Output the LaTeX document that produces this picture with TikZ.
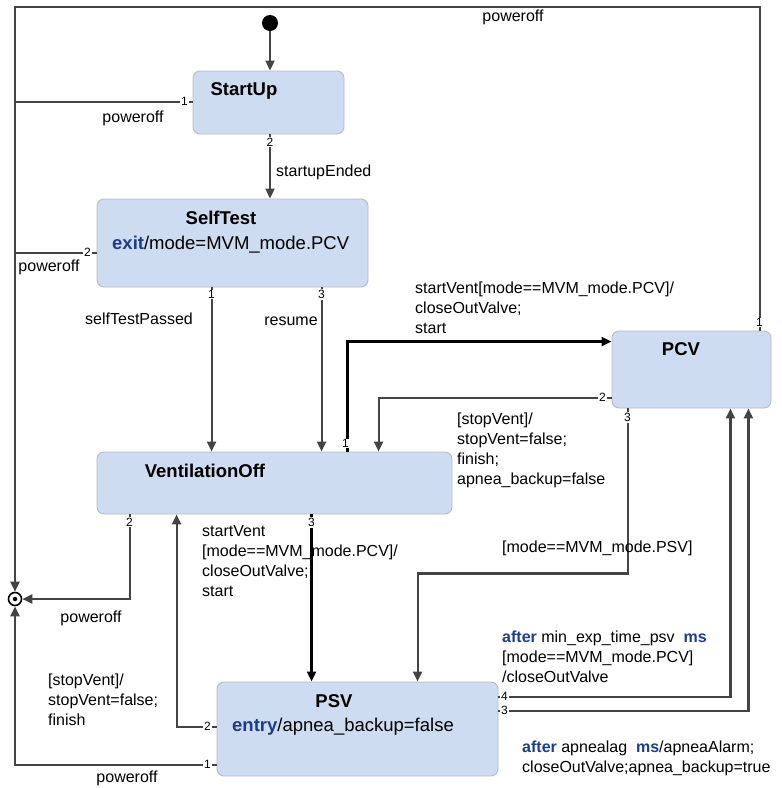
\documentclass[tikz,border=0pt]{standalone}
\usepackage{fontspec}
\setmainfont{Liberation Sans}
\usepackage{tikz}
\usetikzlibrary{arrows.meta}
\definecolor{boxfill}{HTML}{CDDCF0}
\definecolor{boxline}{HTML}{B4BCC8}
\definecolor{wiregray}{HTML}{444444}
\definecolor{kwblue}{HTML}{1E3C8C}
\newcommand{\kw}[1]{{\color{kwblue}\bfseries #1}}
\tikzset{
    state/.style={draw=boxline, fill=boxfill, rounded corners=7pt, line width=0.9pt, inner sep=0pt},
    title/.style={font=\fontsize{18.5}{22}\selectfont\bfseries, inner sep=0pt},
    action/.style={font=\fontsize{18.5}{22}\selectfont, anchor=west, inner sep=0pt},
    lbl/.style={font=\fontsize{16}{20}\selectfont, align=left, anchor=west, inner sep=0pt},
    port/.style={font=\fontsize{12}{13}\selectfont, fill=white, inner sep=0.8pt},
    wire/.style={draw=wiregray, line width=2.1pt},
    trans/.style={wire, -{Triangle[length=10pt,width=9pt]}},
    strong/.style={trans, draw=black, line width=2.3pt}
}
\begin{document}
\begin{tikzpicture}[x=1pt, y=-1pt]
    \useasboundingbox (0,0) rectangle (782,788);
    \node [state, minimum width=151pt, minimum height=63pt] (startup) at (268.5,102.5) {};
    \node [state, minimum width=271pt, minimum height=88pt] (selftest) at (232.5,243) {};
    \node [state, minimum width=355pt, minimum height=62pt] (ventoff) at (274.5,483) {};
    \node [state, minimum width=159pt, minimum height=77pt] (pcv) at (691.5,369.5) {};
    \node [state, minimum width=281pt, minimum height=94pt] (psv) at (357.5,729) {};
    \node [title] (startuptitle) at (244,91) {StartUp};
    \node [title] (selftesttitle) at (221,218) {SelfTest};
    \node [action] (selftestexit) at (112,245) {\kw{exit}/mode=MVM\_mode.PCV};
    \node [title] (ventofftitle) at (205,471) {VentilationOff};
    \node [title] (pcvtitle) at (681,349) {PCV};
    \node [title] (psvtitle) at (334,701) {PSV};
    \node [action] (psventry) at (232,727) {\kw{entry}/apnea\_backup=false};
    \node [circle, fill=black, minimum size=16pt, inner sep=0pt] (init) at (270,23) {};
    \node [circle, draw=black, fill=white, line width=1.6pt, minimum size=13pt, inner sep=0pt] (final) at (15,599) {};
    \node [circle, fill=black, minimum size=4.5pt, inner sep=0pt] (finaldot) at (final) {};
    \coordinate (corner) at (15,7);
    \coordinate (su1) at ([yshift=-31pt]startup.north west);
    \coordinate (su2) at (init |- startup.south);
    \coordinate (st2) at ([yshift=-54pt]selftest.north west);
    \coordinate (st1) at ([xshift=115pt]selftest.south west);
    \coordinate (st3) at ([xshift=225pt]selftest.south west);
    \coordinate (vo1) at ([xshift=251pt]ventoff.north west);
    \coordinate (vo2) at ([xshift=33pt]ventoff.south west);
    \coordinate (vo3) at ([xshift=215pt]ventoff.south west);
    \coordinate (voin) at ([xshift=282pt]ventoff.north west);
    \coordinate (voback) at ([xshift=80pt]ventoff.south west);
    \coordinate (pcv1) at ([xshift=148pt]pcv.north west);
    \coordinate (pcv2) at ([yshift=-67pt]pcv.north west);
    \coordinate (pcv3) at ([xshift=16pt]pcv.south west);
    \coordinate (pcvin) at ([yshift=-11pt]pcv.north west);
    \coordinate (pcvfour) at ([xshift=-41pt]pcv.south east);
    \coordinate (pcvthree) at ([xshift=-23pt]pcv.south east);
    \coordinate (psv1) at ([yshift=-83pt]psv.north west);
    \coordinate (psv2) at ([yshift=-45pt]psv.north west);
    \coordinate (psv3) at ([yshift=-29pt]psv.north east);
    \coordinate (psv4) at ([yshift=-15pt]psv.north east);
    \coordinate (psvin) at ([xshift=201pt]psv.north west);
    \draw [trans] (pcv1) -- (pcv1 |- corner) -- (corner) -- (final.north);
    \draw [wire] (su1) -- (corner |- su1);
    \draw [trans] (init) -- (init |- startup.north);
    \draw [trans] (su2) -- (su2 |- selftest.north);
    \draw [wire] (st2) -- (corner |- st2);
    \draw [trans] (st1) -- (st1 |- ventoff.north);
    \draw [trans] (st3) -- (st3 |- ventoff.north);
    \draw [strong] (vo1) |- (pcvin);
    \draw [trans] (pcv2) -| (voin);
    \draw [trans] (pcv3) -- ++(0,165) -| (psvin);
    \draw [trans] (vo2) |- (final.east);
    \draw [strong] (vo3) -- (vo3 |- psv.north);
    \draw [trans] (psv2) -| (voback);
    \draw [trans] (psv1) -| (final.south);
    \draw [trans] (psv4) -| (pcvfour);
    \draw [trans] (psv3) -| (pcvthree);
    \node [port] (su1n) at ([xshift=-8pt]su1) {1};
    \node [port] (su2n) at ([yshift=-8pt]su2) {2};
    \node [port] (st2n) at ([xshift=-9pt]st2) {2};
    \node [port] (st1n) at ([yshift=-7pt]st1) {1};
    \node [port] (st3n) at ([yshift=-7pt]st3) {3};
    \node [port] (vo1n) at ([xshift=-2pt, yshift=8pt]vo1) {1};
    \node [port] (vo2n) at ([yshift=-8pt]vo2) {2};
    \node [port] (vo3n) at ([yshift=-8pt]vo3) {3};
    \node [port] (pcv1n) at ([yshift=8pt]pcv1) {1};
    \node [port] (pcv2n) at ([xshift=-9pt]pcv2) {2};
    \node [port] (pcv3n) at ([yshift=-9pt]pcv3) {3};
    \node [port] (psv1n) at ([xshift=-9pt]psv1) {1};
    \node [port] (psv2n) at ([xshift=-9pt]psv2) {2};
    \node [port] (psv4n) at ([xshift=6pt]psv4) {4};
    \node [port] (psv3n) at ([xshift=6pt]psv3) {3};
    \node [lbl, anchor=center] (offtop) at (513,17) {poweroff};
    \node [lbl, anchor=center] (offstartup) at (133,118) {poweroff};
    \node [lbl] (ended) at (276,172) {startupEnded};
    \node [lbl, anchor=center] (offselftest) at (49,267) {poweroff};
    \node [lbl, anchor=center] (passed) at (139,319) {selfTestPassed};
    \node [lbl, anchor=center] (resume) at (291,321) {resume};
    \node [lbl] (startpcv) at (415,307.5) {startVent[mode==MVM\_mode.PCV]/\\closeOutValve;\\start};
    \node [lbl] (stoppcv) at (457,450.5) {[stopVent]/\\stopVent=false;\\finish;\\apnea\_backup=false};
    \node [lbl] (topsv) at (502,548) {[mode==MVM\_mode.PSV]};
    \node [lbl] (startpsv) at (202,561) {startVent\\{}[mode==MVM\_mode.PCV]/\\closeOutValve;\\start};
    \node [lbl, anchor=center] (offventoff) at (91,618) {poweroff};
    \node [lbl] (stoppsv) at (48,700) {[stopVent]/\\stopVent=false;\\finish};
    \node [lbl, anchor=center] (offpsv) at (127,778) {poweroff};
    \node [lbl] (expire) at (502,657) {\kw{after} min\_exp\_time\_psv\ \ \kw{ms}\\{}[mode==MVM\_mode.PCV]\\/closeOutValve};
    \node [lbl] (apnea) at (522,758.5) {\kw{after} apnealag\ \ \kw{ms}/apneaAlarm;\\closeOutValve;apnea\_backup=true};
\end{tikzpicture}
\end{document}
